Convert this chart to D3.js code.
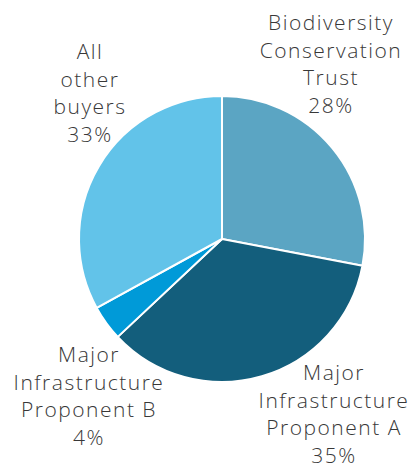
<!DOCTYPE html>
<html>
<head>
<meta charset="utf-8">
<script src="https://cdn.jsdelivr.net/npm/d3@7"></script>
<style>
  html, body { margin: 0; padding: 0; background: #ffffff; }
  svg { display: block; }
  text { font-family: "Open Sans", Lato, sans-serif; font-weight: 300; fill: #383838; }
</style>
</head>
<body>
<svg id="chart" width="414" height="470"></svg>
<script>
// Share of purchases by buyer
const buyers = [
  ["Biodiversity", "Conservation", "Trust"],
  ["Major", "Infrastructure", "Proponent A"],
  ["Major", "Infrastructure", "Proponent B"],
  ["All", "other", "buyers"]
];
const shares = [28, 35, 4, 33];
const colours = ["#5ba5c3", "#135e7c", "#009ad8", "#62c3e9"];

// label block centres (x) and first-baseline (y), one per slice
const labelAnchors = [
  { x: 331, y: 30 },
  { x: 334, y: 380 },
  { x: 89, y: 362 },
  { x: 90, y: 59 }
];
const lineHeight = 27.7;

const width = 414, height = 470;
const cx = 222, cy = 239, radius = 143;

const svg = d3.select("#chart");

const pie = d3.pie().sort(null).value(d => d);
const arcs = pie(shares);
const arc = d3.arc().innerRadius(0).outerRadius(radius);

const g = svg.append("g").attr("transform", `translate(${cx},${cy})`);
g.selectAll("path")
  .data(arcs)
  .join("path")
  .attr("d", arc)
  .attr("fill", (d, i) => colours[i])
  .attr("stroke", "#ffffff")
  .attr("stroke-width", 2)
  .attr("stroke-linejoin", "round");

const labels = svg.selectAll("text.label")
  .data(arcs)
  .join("text")
  .attr("class", "label")
  .attr("text-anchor", "middle")
  .attr("font-size", 21)
  .attr("letter-spacing", 1.5);

labels.each(function (d, i) {
  const t = d3.select(this);
  const lines = buyers[i].concat([`${d.data}%`]);
  lines.forEach((line, j) => {
    t.append("tspan")
      .attr("x", labelAnchors[i].x)
      .attr("y", labelAnchors[i].y + j * lineHeight)
      .text(line);
  });
});
</script>
</body>
</html>
